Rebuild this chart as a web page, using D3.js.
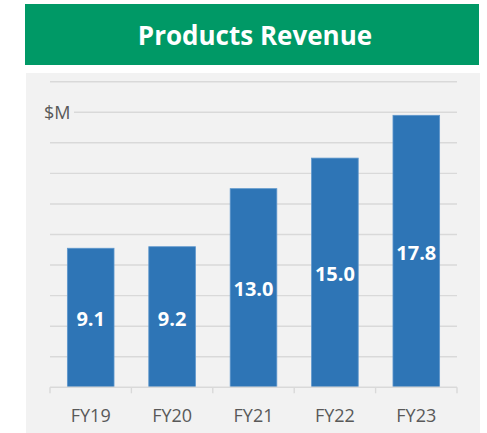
<!DOCTYPE html>
<html><head><meta charset="utf-8">
<script src="https://cdn.jsdelivr.net/npm/d3@7"></script>
<style>body{margin:0;background:#fff}svg{display:block}</style>
</head><body>
<svg id="c" width="487" height="433"></svg>
<script>
const title = "Products Revenue";
const unitLabel = "$M";
const categories = ["FY19","FY20","FY21","FY22","FY23"];
const values = [9.1, 9.2, 13.0, 15.0, 17.8];
const valueLabels = ["9.1","9.2","13.0","15.0","17.8"];
const yTicks = [0,2,4,6,8,10,12,14,16,18,20];

const svg = d3.select("#c");
// banner
svg.append("rect").attr("x",25).attr("y",4).attr("width",454).attr("height",61).attr("fill","#009966");
svg.append("text").attr("x",255).attr("y",35).attr("text-anchor","middle").attr("dominant-baseline","central")
  .attr("fill","#fff").attr("font-family","'Open Sans', sans-serif").attr("font-weight","bold").attr("font-size",26)
  .text(title);
// panel
svg.append("rect").attr("x",26).attr("y",73).attr("width",454).attr("height",360).attr("fill","#f2f2f2");

const x = d3.scaleBand().domain(categories).range([50,457]).paddingInner(0.427).paddingOuter(0.2135);
const y = d3.scaleLinear().domain([0,20]).range([387.3,81.7]);

// gridlines
const g = svg.append("g");
g.selectAll("line.grid").data(yTicks.filter(d=>d>0)).join("line")
  .attr("x1", d => d===18 ? 74 : 50).attr("x2",457)
  .attr("y1", d=>y(d)).attr("y2", d=>y(d))
  .attr("stroke","#d9d9d9").attr("stroke-width",1.4);

svg.append("text").attr("x",44).attr("y",y(18)).attr("dominant-baseline","central")
  .attr("fill","#595959").attr("font-family","'Open Sans', sans-serif").attr("font-size",18).text(unitLabel);

// bars
svg.selectAll("rect.bar").data(values).join("rect").attr("class","bar")
  .attr("x",(d,i)=>x(categories[i])).attr("width",x.bandwidth())
  .attr("y",d=>y(d)).attr("height",d=>y(0)-y(d))
  .attr("fill","#2e75b6").attr("stroke","#5f97cc").attr("stroke-width",0.8);

// x axis
const xAxis = d3.axisBottom(x).tickSize(0).tickPadding(0);
const ax = svg.append("g").attr("transform",`translate(0,${y(0)})`);
ax.append("line").attr("x1",50).attr("x2",457).attr("y1",0).attr("y2",0).attr("stroke","#d9d9d9").attr("stroke-width",1.4);
const step = x.step();
const tickPos = d3.range(categories.length+1).map(i=>50+i*step);
ax.selectAll("line.tk").data(tickPos).join("line").attr("x1",d=>d).attr("x2",d=>d).attr("y1",0).attr("y2",6)
  .attr("stroke","#d9d9d9").attr("stroke-width",1.4);
const axg = ax.append("g").call(xAxis);
axg.select(".domain").remove();
axg.selectAll("text").attr("y",28).attr("dy",0).attr("dominant-baseline","central")
  .attr("fill","#595959").attr("font-family","'Open Sans', sans-serif").attr("font-size",18);

// value labels
svg.selectAll("text.val").data(values).join("text").attr("class","val")
  .attr("x",(d,i)=>x(categories[i])+x.bandwidth()/2)
  .attr("y",d=>(y(d)+y(0))/2+1).attr("text-anchor","middle").attr("dominant-baseline","central")
  .attr("fill","#fff").attr("font-family","'Open Sans', sans-serif").attr("font-weight","bold").attr("font-size",20)
  .text((d,i)=>valueLabels[i]);
</script>
</body></html>
